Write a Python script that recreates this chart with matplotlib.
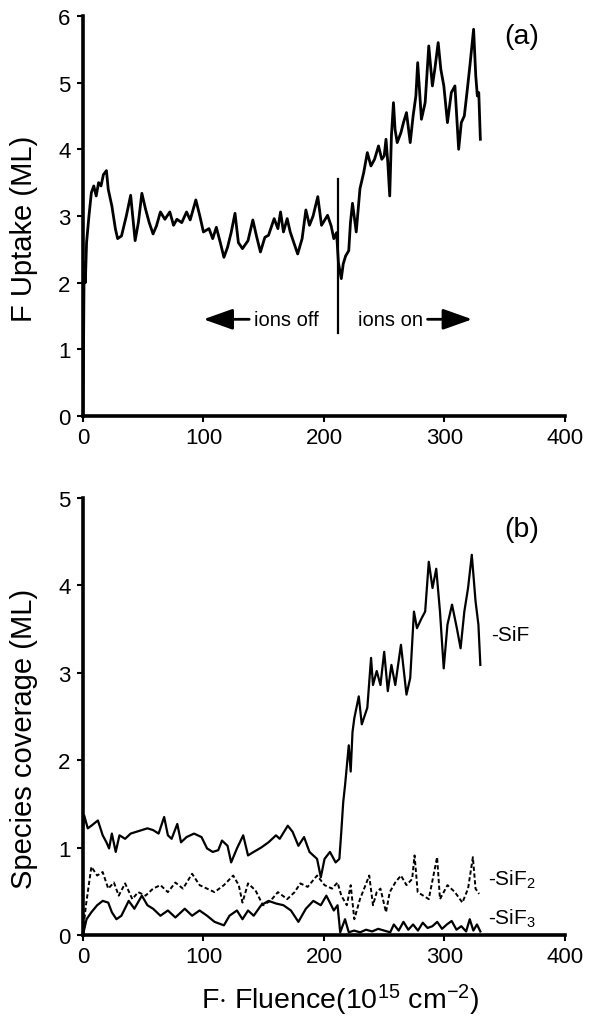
import matplotlib
matplotlib.use("Agg")
import matplotlib.pyplot as plt

plt.rcParams['font.family'] = ['Liberation Sans', 'DejaVu Sans']
plt.rcParams['mathtext.fontset'] = 'custom'
plt.rcParams['mathtext.rm'] = 'Liberation Sans'
plt.rcParams['mathtext.it'] = 'Liberation Sans'

# ---------------- data ----------------
# Panel (a): F uptake vs fluence
up_x = [0, 0.5, 1, 2, 3, 5, 7, 9, 11, 13, 15, 17, 19.5, 21, 24, 27, 28.8, 32, 36, 39.6,
        43.3, 46, 48.9, 52, 55, 58.2, 61, 64.3, 68, 72.1, 75.2, 78, 82, 86, 89, 93.7,
        97, 100, 104.6, 107.7, 110.7, 114, 117, 120, 123, 126.2, 129, 132.4, 137, 141,
        144, 147.3, 151, 154, 158.7, 161.8, 164, 166.4, 169.5, 172, 175, 178.2, 181.9,
        185, 188, 191, 194.9, 198, 203, 206, 208.2, 210.5, 212, 214.4, 216, 218, 220.6,
        222, 223.7, 226.8, 229.9, 233, 236, 239, 242, 245.3, 248, 250, 251.5, 253, 254.6,
        256, 257.7, 259, 260.8, 263.9, 266, 268.5, 271.6, 274, 276.3, 277.8, 280.9, 284,
        287, 290, 292, 294.8, 297, 299.5, 302.5, 305.7, 308.7, 311.8, 314, 316.5, 319,
        321.1, 324.2, 326, 327.3, 328.5, 329.8]
up_y = [0, 1.0, 2.3, 2.0, 2.6, 3.0, 3.35, 3.45, 3.3, 3.5, 3.45, 3.62, 3.68, 3.4, 3.15,
        2.8, 2.66, 2.7, 3.0, 3.31, 2.63, 2.9, 3.34, 3.1, 2.9, 2.73, 2.85, 3.06, 2.95, 3.06,
        2.86, 2.95, 2.9, 3.06, 2.94, 3.24, 3.0, 2.76, 2.81, 2.66, 2.83, 2.6, 2.38, 2.53,
        2.75, 3.04, 2.6, 2.51, 2.63, 2.94, 2.7, 2.46, 2.68, 2.71, 2.96, 2.81, 3.06, 2.76,
        2.96, 2.76, 2.6, 2.43, 2.66, 3.09, 2.86, 3.0, 3.29, 2.86, 3.01, 2.85, 2.66, 2.75,
        2.3, 2.06, 2.28, 2.4, 2.48, 2.9, 3.19, 2.76, 3.41, 3.65, 3.95, 3.75, 3.85, 4.05,
        3.85, 3.9, 4.15, 3.8, 3.3, 4.2, 4.7, 4.3, 4.1, 4.25, 4.4, 4.55, 4.1, 4.5, 4.8,
        5.3, 4.45, 4.7, 5.55, 4.95, 5.2, 5.6, 5.2, 4.95, 4.4, 4.85, 4.95, 4.0, 4.4, 4.5,
        4.9, 5.25, 5.8, 5.1, 4.8, 4.85, 4.15]

# Panel (b): species coverage
sif_x = [0, 1, 4, 7, 12.4, 16.4, 19.5, 21.7, 24, 27.2, 30.3, 35, 39.6, 44.2, 48.9, 53.5,
         58.2, 62.8, 67.4, 70.5, 73.6, 78.3, 81.4, 86, 92.2, 98.4, 103, 107.7, 112.3, 115.4,
         120, 123, 127.8, 133, 137, 141.7, 147.9, 154, 160.2, 163.3, 170, 174, 178.8, 183.5,
         188, 194.3, 197.4, 200.5, 205, 209.7, 212.8, 214.4, 216, 217.5, 220.6, 222.2,
         223.7, 225.2, 228.9, 231.4, 236, 239.1, 240.7, 243.8, 246.9, 250, 253, 256, 259.2,
         263.9, 268.5, 271.6, 274.7, 277.2, 280.9, 284, 287, 290.1, 293.2, 296.3, 299.4,
         302.5, 306.3, 310.3, 313.4, 316.5, 319.6, 322.7, 325.8, 328.2, 329.8]
sif_y = [1.2, 1.37, 1.22, 1.25, 1.31, 1.14, 1.06, 0.99, 1.16, 0.95, 1.14, 1.10, 1.16,
         1.18, 1.2, 1.22, 1.2, 1.16, 1.35, 1.14, 1.10, 1.27, 1.06, 1.12, 1.16, 1.12, 0.99,
         0.95, 0.97, 1.08, 1.02, 0.83, 0.99, 1.14, 0.91, 0.95, 1.0, 1.06, 1.14, 1.1, 1.25,
         1.18, 1.02, 1.12, 0.95, 0.87, 0.66, 0.87, 0.95, 0.83, 0.87, 1.18, 1.52, 1.71,
         2.17, 1.87, 2.32, 2.48, 2.73, 2.41, 2.6, 3.17, 2.86, 3.02, 2.86, 3.24, 2.79, 3.09,
         2.86, 3.32, 2.75, 2.94, 3.7, 3.51, 3.62, 3.7, 4.27, 3.97, 4.19, 3.7, 3.05, 3.55,
         3.78, 3.51, 3.28, 3.7, 3.97, 4.35, 3.82, 3.55, 3.09]

sif2_x = [0, 2.5, 7, 11.8, 16.4, 21, 25.7, 29.7, 35, 41, 45.8, 52, 58.2, 64.3, 70.5, 76.7,
          83, 90.6, 96.8, 103, 109.2, 117, 124.7, 129.3, 132.4, 137, 143.2, 149.4, 155.6,
          161.8, 169.5, 175.7, 180.4, 186.5, 194.3, 200.5, 206.7, 211.3, 214.4, 219, 222.2,
          225.2, 229.9, 234.5, 237.6, 240.7, 243.8, 246.9, 251.5, 254.6, 259.2, 263.9,
          268.5, 273.2, 275.2, 277.8, 282.4, 287, 293.9, 296.3, 302.5, 308.7, 314.9, 319.6,
          323.6, 325.8, 328.8]
sif2_y = [0.03, 0.34, 0.78, 0.68, 0.72, 0.53, 0.6, 0.45, 0.59, 0.41, 0.49, 0.45, 0.53,
          0.57, 0.49, 0.6, 0.53, 0.7, 0.57, 0.53, 0.49, 0.57, 0.68, 0.57, 0.37, 0.59, 0.51,
          0.34, 0.39, 0.49, 0.41, 0.49, 0.59, 0.55, 0.68, 0.57, 0.53, 0.6, 0.45, 0.34, 0.57,
          0.18, 0.41, 0.57, 0.68, 0.34, 0.49, 0.53, 0.26, 0.49, 0.6, 0.68, 0.57, 0.64, 0.91,
          0.49, 0.45, 0.41, 0.89, 0.41, 0.57, 0.49, 0.37, 0.53, 0.89, 0.53, 0.47]

sif3_x = [0, 3, 7, 11.8, 16.4, 21, 24, 27.8, 31.9, 38, 42.7, 48.9, 53.5, 58.2, 64.3, 70.5,
          76.7, 84.5, 90.6, 96.8, 103, 109.2, 117, 121.6, 127.8, 132.4, 137, 141.7, 147.9,
          154, 160.2, 166.4, 172.6, 178.8, 185, 191.2, 197.4, 202, 208.2, 211.3, 213.5,
          217.5, 220.6, 225, 230, 235, 240, 245, 250, 255, 258, 262, 266, 270, 274, 278,
          282, 286, 290, 294, 298, 302, 306, 310, 314, 318, 321, 324, 327, 329.8]
sif3_y = [0, 0.18, 0.26, 0.34, 0.39, 0.37, 0.26, 0.18, 0.22, 0.39, 0.3, 0.45, 0.34, 0.3,
          0.22, 0.28, 0.2, 0.3, 0.22, 0.28, 0.22, 0.15, 0.11, 0.22, 0.28, 0.18, 0.28, 0.22,
          0.34, 0.39, 0.36, 0.34, 0.28, 0.15, 0.3, 0.39, 0.34, 0.45, 0.28, 0.34, 0.03,
          0.18, 0.03, 0.05, 0.03, 0.06, 0.04, 0.07, 0.05, 0.03, 0.12, 0.05, 0.15, 0.06,
          0.12, 0.05, 0.14, 0.08, 0.1, 0.15, 0.07, 0.12, 0.16, 0.06, 0.1, 0.04, 0.18, 0.05,
          0.12, 0.04]

x_ticks = [0, 100, 200, 300, 400]
ya_ticks = [0, 1, 2, 3, 4, 5, 6]
yb_ticks = [0, 1, 2, 3, 4, 5]
ions_switch = 212

# ---------------- figure ----------------
fig = plt.figure(figsize=(6.01, 10.2), dpi=100)
ax1 = fig.add_axes([0.138, 0.5912, 0.802, 0.3922])
ax2 = fig.add_axes([0.138, 0.0824, 0.802, 0.4284])

TICK_FS = 16
LABEL_FS = 21

for ax in (ax1, ax2):
    for s in ('top', 'right'):
        ax.spines[s].set_visible(False)
    for s in ('left', 'bottom'):
        ax.spines[s].set_linewidth(2.6)
    ax.tick_params(direction='out', length=4, width=1.5, labelsize=TICK_FS)
    ax.tick_params(axis='x', pad=4)
    ax.tick_params(axis='y', pad=5)
    ax.set_xlim(0, 400)
    ax.set_xticks(x_ticks)

# panel (a)
ax1.plot(up_x, up_y, color='black', lw=2.0)
ax1.set_ylim(0, 6)
ax1.set_yticks(ya_ticks)
ax1.set_ylabel('F Uptake (ML)', fontsize=LABEL_FS)
ax1.yaxis.set_label_coords(-0.093, 0.47)
ax1.text(364, 5.7, '(a)', fontsize=20.5, ha='center', va='center')
ax1.plot([ions_switch, ions_switch], [1.25, 3.55], color='black', lw=1.6)
ax1.text(169, 1.45, 'ions off', fontsize=14.5, ha='center', va='center')
ax1.text(255, 1.45, 'ions on', fontsize=14.5, ha='center', va='center')
arr = dict(arrowstyle='-|>,head_length=0.9,head_width=0.32', color='black', lw=2,
           mutation_scale=20, shrinkA=0, shrinkB=0)
ax1.annotate('', xy=(100, 1.45), xytext=(138, 1.45), arrowprops=arr)
ax1.annotate('', xy=(323, 1.45), xytext=(286, 1.45), arrowprops=arr)

# panel (b)
ax2.plot(sif_x, sif_y, color='black', lw=1.6)
ax2.plot(sif2_x, sif2_y, color='black', lw=1.4, ls=(0, (2.2, 1.3)))
ax2.plot(sif3_x, sif3_y, color='black', lw=1.6)
ax2.set_ylim(0, 5)
ax2.set_yticks(yb_ticks)
ax2.set_ylabel('Species coverage (ML)', fontsize=LABEL_FS)
ax2.yaxis.set_label_coords(-0.093, 0.45)
ax2.set_xlabel('F$\\cdot$ Fluence(10$^{15}$ cm$^{-2}$)', fontsize=20.5)
ax2.xaxis.set_label_coords(0.533, -0.108)
ax2.text(364, 4.65, '(b)', fontsize=20.5, ha='center', va='center')
ax2.text(339, 3.38, '-SiF', fontsize=15, ha='left', va='baseline')
ax2.text(336, 0.57, '-SiF$_2$', fontsize=15, ha='left', va='baseline')
ax2.text(336, 0.13, '-SiF$_3$', fontsize=15, ha='left', va='baseline')

fig.savefig('out.png', dpi=100)
